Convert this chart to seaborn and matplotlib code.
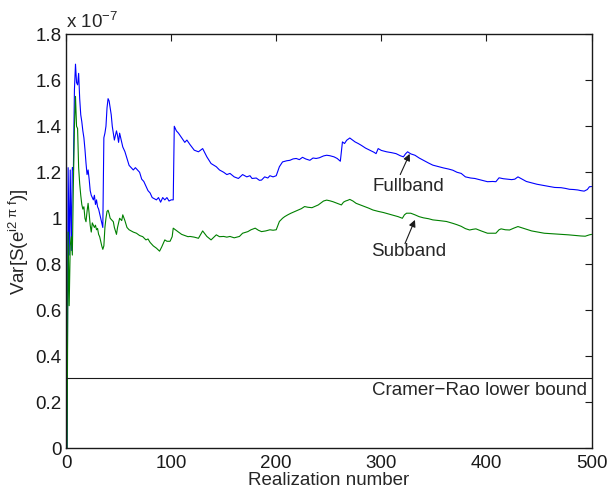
import matplotlib
matplotlib.use("Agg")
import matplotlib.pyplot as plt
import seaborn as sns
import numpy as np
import pandas as pd

# realization number / variance (units of 1e-7)
full_n = [1, 2, 3, 4, 5, 6, 7, 8, 9, 10, 11, 12, 13, 14, 15, 16, 17, 18, 19, 20,
          21, 22, 23, 24, 25, 26, 27, 28, 29, 30, 31, 32, 33, 34, 35, 36, 37, 38, 39, 40,
          41, 42, 43, 44, 45, 46, 47, 48, 49, 50, 51, 52, 54, 56, 58, 60, 62, 64, 66, 68,
          70, 72, 74, 76, 78, 80, 82, 84, 86, 88, 90, 92, 94, 96, 98, 100, 102, 103, 105, 107,
          110, 113, 115, 118, 122, 126, 130, 134, 138, 143, 146, 150, 153, 156, 160, 164, 168, 172, 175, 177,
          181, 184, 186, 189, 192, 194, 197, 200, 203, 206, 210, 213, 216, 219, 222, 225, 228, 232, 235, 238,
          241, 245, 248, 251, 255, 258, 261, 263, 265, 267, 270, 272, 275, 278, 281, 285, 289, 293, 295, 297,
          300, 305, 310, 314, 318, 321, 323, 325, 328, 332, 336, 340, 345, 349, 354, 359, 364, 368, 372, 376,
          380, 385, 389, 395, 401, 406, 409, 412, 416, 420, 424, 427, 430, 434, 438, 443, 448, 455, 460, 465,
          471, 475, 479, 483, 487, 490, 493, 496, 498, 500]
full_var = [0.0, 1.22, 0.84, 1.21, 0.86, 1.22, 1.21, 1.56, 1.67, 1.59, 1.58, 1.63, 1.52, 1.45, 1.42, 1.38, 1.35, 1.30, 1.24, 1.19,
            1.21, 1.17, 1.12, 1.10, 1.09, 1.08, 1.10, 1.06, 1.08, 1.05, 1.04, 1.02, 1.00, 0.98, 0.96, 1.35, 1.37, 1.40, 1.48, 1.52,
            1.51, 1.48, 1.45, 1.40, 1.37, 1.34, 1.36, 1.38, 1.36, 1.33, 1.37, 1.35, 1.31, 1.29, 1.26, 1.23, 1.22, 1.21, 1.22, 1.21,
            1.20, 1.17, 1.16, 1.14, 1.12, 1.11, 1.09, 1.085, 1.08, 1.09, 1.07, 1.09, 1.08, 1.09, 1.075, 1.08, 1.08, 1.40, 1.38, 1.37,
            1.35, 1.33, 1.34, 1.32, 1.296, 1.289, 1.303, 1.267, 1.238, 1.224, 1.21, 1.20, 1.19, 1.195, 1.18, 1.173, 1.19, 1.18, 1.185, 1.173,
            1.175, 1.165, 1.166, 1.18, 1.175, 1.185, 1.18, 1.185, 1.224, 1.245, 1.25, 1.252, 1.258, 1.26, 1.255, 1.265, 1.258, 1.252, 1.262, 1.26,
            1.263, 1.271, 1.274, 1.272, 1.267, 1.26, 1.248, 1.332, 1.325, 1.339, 1.349, 1.342, 1.332, 1.325, 1.317, 1.305, 1.296, 1.287, 1.281, 1.303,
            1.295, 1.289, 1.285, 1.281, 1.272, 1.267, 1.28, 1.289, 1.28, 1.274, 1.262, 1.252, 1.24, 1.231, 1.225, 1.219, 1.214, 1.209, 1.20, 1.195,
            1.18, 1.175, 1.173, 1.166, 1.159, 1.16, 1.159, 1.176, 1.172, 1.17, 1.168, 1.17, 1.18, 1.17, 1.16, 1.154, 1.148, 1.142, 1.138, 1.134,
            1.133, 1.13, 1.126, 1.125, 1.123, 1.12, 1.118, 1.125, 1.137, 1.138]

sub_n = [1, 2, 3, 4, 5, 6, 7, 8, 9, 10, 11, 12, 13, 14, 15, 16, 17, 18, 19, 20,
         21, 22, 23, 24, 25, 26, 27, 28, 29, 30, 31, 32, 33, 34, 35, 36, 37, 38, 39, 40,
         41, 42, 44, 45, 46, 48, 49, 50, 51, 53, 54, 56, 58, 60, 62, 64, 67, 70, 73, 76,
         78, 80, 83, 86, 89, 91, 94, 96, 99, 101, 102, 104, 107, 110, 113, 116, 118, 122, 126, 130,
         134, 138, 143, 146, 150, 153, 156, 160, 165, 168, 173, 176, 180, 183, 186, 190, 194, 197, 200, 203,
         206, 208, 211, 214, 217, 221, 224, 227, 230, 234, 237, 240, 243, 245, 248, 251, 254, 258, 262, 264,
         266, 268, 270, 273, 276, 280, 284, 288, 292, 297, 302, 306, 311, 316, 320, 322, 324, 328, 332, 336,
         340, 345, 349, 355, 362, 368, 372, 376, 380, 384, 387, 390, 395, 401, 405, 409, 412, 414, 418, 422,
         426, 430, 436, 443, 449, 455, 462, 468, 473, 478, 485, 490, 494, 498, 500]
sub_var = [0.0, 0.94, 0.62, 0.88, 0.92, 0.84, 1.15, 1.40, 1.53, 1.40, 1.39, 1.22, 1.15, 1.10, 1.06, 1.04, 1.05, 1.00, 0.985, 1.03,
           1.065, 1.02, 0.97, 0.94, 0.98, 0.97, 0.96, 0.97, 0.95, 0.956, 0.93, 0.92, 0.90, 0.88, 0.865, 0.88, 0.96, 1.00, 1.03, 1.035,
           1.02, 1.00, 0.99, 0.985, 0.96, 0.93, 0.96, 0.98, 1.00, 0.99, 1.015, 0.99, 0.96, 0.95, 0.945, 0.94, 0.935, 0.925, 0.92, 0.906,
           0.91, 0.895, 0.88, 0.87, 0.857, 0.875, 0.906, 0.90, 0.90, 0.92, 0.957, 0.95, 0.94, 0.93, 0.925, 0.92, 0.921, 0.918, 0.913, 0.945,
           0.921, 0.906, 0.928, 0.92, 0.921, 0.918, 0.921, 0.915, 0.921, 0.935, 0.942, 0.95, 0.957, 0.948, 0.942, 0.945, 0.95, 0.948, 0.95, 0.986,
           1.0, 1.007, 1.015, 1.022, 1.028, 1.036, 1.042, 1.051, 1.048, 1.046, 1.052, 1.058, 1.068, 1.075, 1.079, 1.076, 1.072, 1.065, 1.058, 1.07,
           1.075, 1.078, 1.082, 1.075, 1.065, 1.058, 1.051, 1.044, 1.036, 1.03, 1.025, 1.02, 1.014, 1.007, 1.0, 1.015, 1.022, 1.022, 1.015, 1.007,
           1.002, 0.998, 0.993, 0.99, 0.986, 0.978, 0.972, 0.965, 0.955, 0.949, 0.952, 0.954, 0.945, 0.935, 0.935, 0.935, 0.95, 0.954, 0.95, 0.949,
           0.957, 0.964, 0.955, 0.945, 0.94, 0.935, 0.933, 0.931, 0.93, 0.928, 0.925, 0.923, 0.922, 0.928, 0.93]

crlb = 0.305  # Cramer-Rao lower bound, units of 1e-7
scale = 1e-7

df_full = pd.DataFrame({'n': full_n, 'var': np.array(full_var) * scale})
df_sub = pd.DataFrame({'n': sub_n, 'var': np.array(sub_var) * scale})

sns.set_theme(style='white')
plt.rcParams['font.family'] = ['Liberation Sans', 'DejaVu Sans']
plt.rcParams['mathtext.fontset'] = 'custom'
plt.rcParams['mathtext.rm'] = 'Liberation Sans'
plt.rcParams['mathtext.it'] = 'Liberation Sans'
fs = 13.5

fig = plt.figure(figsize=(6.08, 4.90), dpi=100)
ax = fig.add_axes([0.1086, 0.0851, 0.8643, 0.845])

sns.lineplot(data=df_full, x='n', y='var', color=(0, 0, 1), lw=0.8, estimator=None, ax=ax)
sns.lineplot(data=df_sub, x='n', y='var', color=(0, 0.5, 0), lw=0.8, estimator=None, ax=ax)
ax.axhline(crlb * scale, color='k', lw=0.8)

ax.set_xlim(0, 500)
ax.set_ylim(0, 1.8e-7)
ax.set_xticks(np.arange(0, 501, 100))
ax.set_yticks(np.arange(0, 1.81, 0.2) * scale)
ax.yaxis.set_major_formatter(plt.FuncFormatter(lambda v, p: '%g' % round(v / scale, 2)))
ax.tick_params(direction='in', length=5, width=0.8, top=True, right=True,
               labelsize=fs, colors='k')
ax.tick_params(axis='x', pad=4.5)
ax.tick_params(axis='y', pad=3)
for s in ax.spines.values():
    s.set_color('k')
    s.set_linewidth(1.0)

ax.set_xlabel('Realization number', fontsize=fs, labelpad=0.5)
ax.set_ylabel(r'Var[S(e$^{\mathrm{i2\ \pi\ f}}$)]', fontsize=fs, labelpad=3)
ax.text(0.0, 1.005, r'x 10$^{-7}$', transform=ax.transAxes, fontsize=fs,
        ha='left', va='bottom')

# labels with arrows
ax.text(326, 1.14 * scale, 'Fullband', fontsize=fs, ha='center', va='center')
ax.annotate('', xy=(327, 1.28 * scale), xytext=(318, 1.19 * scale),
            arrowprops=dict(arrowstyle='-|>', color='k', lw=0.8, mutation_scale=10,
                            shrinkA=0, shrinkB=0))
ax.text(326, 0.857 * scale, 'Subband', fontsize=fs, ha='center', va='center')
ax.annotate('', xy=(332, 0.993 * scale), xytext=(322.5, 0.89 * scale),
            arrowprops=dict(arrowstyle='-|>', color='k', lw=0.8, mutation_scale=10,
                            shrinkA=0, shrinkB=0))
ax.text(496, 0.25 * scale, 'Cramer\u2212Rao lower bound', fontsize=fs,
        ha='right', va='center')

fig.savefig('out.png', dpi=100)
